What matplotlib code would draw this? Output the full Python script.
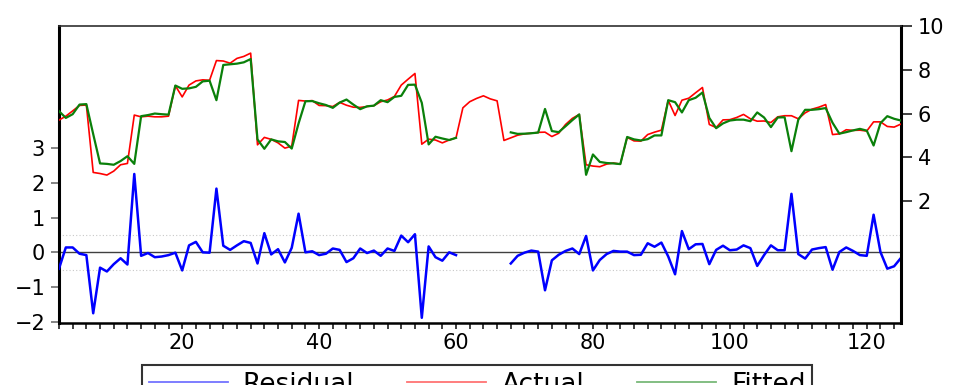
import numpy as np
import matplotlib
matplotlib.use("Agg")
import matplotlib.pyplot as plt
from matplotlib.ticker import MultipleLocator

plt.rcParams["font.family"] = ["DejaVu Sans"]

obs = np.arange(2, 126)  # observation numbers on the x axis
nan = np.nan

# Actual series (right axis)
actual = [5.70, 5.88, 6.12, 6.37, 6.39, 3.31, 3.26, 3.19, 3.37, 3.66,
          3.72, 5.93, 5.85, 5.88, 5.85, 5.85, 5.88, 7.27, 6.76, 7.30,
          7.49, 7.54, 7.52, 8.42, 8.40, 8.30, 8.52, 8.61, 8.76, 4.57,
          4.91, 4.82, 4.66, 4.42, 4.51, 6.60, 6.57, 6.59, 6.37, 6.36,
          6.32, 6.51, 6.38, 6.29, 6.28, 6.32, 6.36, 6.54, 6.62, 6.78,
          7.30, 7.57, 7.83, 4.60, 4.83, 4.79, 4.66, 4.79, 4.89, 6.26,
          6.54, 6.69, 6.81, 6.67, 6.58, 4.77, 4.89, 5.01, 5.07, 5.10,
          5.14, 5.15, 4.95, 5.10, 5.50, 5.78, 5.96, 3.66, 3.60, 3.57,
          3.69, 3.74, 3.69, 4.91, 4.75, 4.74, 5.04, 5.15, 5.24, 6.60,
          5.91, 6.61, 6.70, 6.95, 7.19, 5.50, 5.36, 5.71, 5.72, 5.82,
          5.96, 5.76, 5.65, 5.66, 5.59, 5.85, 5.90, 5.90, 5.76, 6.03,
          6.20, 6.29, 6.41, 5.04, 5.07, 5.26, 5.23, 5.24, 5.20, 5.62,
          5.62, 5.41, 5.38, 5.52]

# Fitted series (right axis), gap for obs 61-67
fitted = [6.11, 5.80, 5.97, 6.41, 6.43, 5.06, 3.72, 3.70, 3.66, 3.83,
          4.05, 3.70, 5.88, 5.93, 6.00, 5.97, 5.95, 7.28, 7.13, 7.15,
          7.22, 7.47, 7.50, 6.61, 8.22, 8.25, 8.28, 8.34, 8.49, 4.82,
          4.39, 4.82, 4.73, 4.70, 4.40, 5.55, 6.56, 6.57, 6.47, 6.39,
          6.26, 6.50, 6.64, 6.41, 6.20, 6.33, 6.36, 6.61, 6.52, 6.76,
          6.81, 7.31, 7.32, 6.49, 4.59, 4.94, 4.86, 4.79, 4.89, nan,
          nan, nan, nan, nan, nan, nan, 5.14, 5.07, 5.08, 5.10,
          5.13, 6.21, 5.20, 5.15, 5.42, 5.70, 5.96, 3.20, 4.13, 3.79,
          3.74, 3.72, 3.69, 4.93, 4.82, 4.77, 4.83, 5.00, 5.00, 6.61,
          6.52, 6.05, 6.61, 6.72, 6.96, 5.80, 5.33, 5.55, 5.68, 5.72,
          5.72, 5.65, 6.05, 5.82, 5.38, 5.82, 5.83, 4.28, 5.72, 6.17,
          6.17, 6.20, 6.25, 5.58, 5.08, 5.15, 5.23, 5.30, 5.22, 4.54,
          5.56, 5.88, 5.76, 5.68]

# Residual series (left axis)
residual = [-0.47, 0.14, 0.14, -0.04, -0.08, -1.75, -0.44, -0.55, -0.34, -0.17,
            -0.35, 2.25, -0.10, -0.02, -0.14, -0.12, -0.08, -0.01, -0.52, 0.20,
            0.30, 0.00, -0.01, 1.83, 0.19, 0.07, 0.20, 0.32, 0.27, -0.32,
            0.55, -0.06, 0.09, -0.29, 0.13, 1.11, 0.00, 0.03, -0.08, -0.04,
            0.11, 0.07, -0.28, -0.17, 0.11, -0.02, 0.05, -0.10, 0.11, 0.04,
            0.48, 0.29, 0.52, -1.88, 0.17, -0.14, -0.24, 0.00, -0.08, nan,
            nan, nan, nan, nan, nan, nan, -0.32, -0.10, -0.01, 0.05,
            0.02, -1.09, -0.23, -0.07, 0.04, 0.11, -0.05, 0.47, -0.52, -0.22,
            -0.05, 0.04, 0.02, 0.02, -0.08, -0.07, 0.26, 0.16, 0.28, -0.12,
            -0.63, 0.61, 0.09, 0.23, 0.24, -0.34, 0.07, 0.19, 0.06, 0.08,
            0.20, 0.12, -0.39, -0.08, 0.20, 0.06, 0.06, 1.68, -0.05, -0.18,
            0.08, 0.12, 0.15, -0.50, 0.01, 0.14, 0.04, -0.08, -0.10, 1.08,
            0.01, -0.47, -0.40, -0.16]

left_ticks = [-2, -1, 0, 1, 2, 3]
right_ticks = [2, 4, 6, 8, 10]
band = 0.5  # dotted +/- band on the residual axis

fig = plt.figure(figsize=(9.59, 3.85), dpi=100)
ax = fig.add_axes([0.0615, 0.161, 0.878, 0.7715])
ax2 = ax.twinx()

# residual on the left axis
ax.axhline(0, color="#404040", lw=1.0, zorder=1)
ax.axhline(band, color="#c8c8c8", lw=0.8, ls=(0, (1, 2)), zorder=1)
ax.axhline(-band, color="#c8c8c8", lw=0.8, ls=(0, (1, 2)), zorder=1)
ax.plot(obs, residual, color="#0000ff", lw=1.8, zorder=3)
ax.set_ylim(-2.03, 6.5)
ax.set_yticks(left_ticks)

# actual / fitted on the right axis
ax2.plot(obs, actual, color="#ff0000", lw=1.2, zorder=3)
ax2.plot(obs, fitted, color="#0a800a", lw=1.6, zorder=4)
ax2.set_ylim(-3.57, 10)
ax2.set_yticks(right_ticks)

ax.set_xlim(2, 125)
ax.xaxis.set_major_locator(MultipleLocator(20))
ax.xaxis.set_minor_locator(MultipleLocator(2))
ax.tick_params(axis="x", which="both", direction="out", length=4, width=1.2,
               color="#202020", labelsize=15, pad=3)
ax.tick_params(axis="y", direction="out", length=6, width=1.2,
               color="#707070", labelsize=15, pad=4)
ax2.tick_params(axis="y", direction="out", length=8, width=1.2,
                color="#202020", labelsize=15, pad=4)

for s in ["top", "right"]:
    ax.spines[s].set_visible(False)
ax2.spines["left"].set_visible(False)
ax2.spines["bottom"].set_visible(False)
ax2.spines["top"].set_linewidth(1.2)
ax2.spines["top"].set_color("#303030")
ax2.spines["right"].set_linewidth(2.2)
ax.spines["left"].set_linewidth(2.2)
ax.spines["bottom"].set_linewidth(1.8)

# legend under the plot, cut off by the bottom edge like the original
handles = [plt.Line2D([], [], color="#0000ff", lw=1.3, alpha=0.55),
           plt.Line2D([], [], color="#ff0000", lw=1.3, alpha=0.55),
           plt.Line2D([], [], color="#0a800a", lw=1.3, alpha=0.55)]
leg = fig.legend(handles, ["Residual", "Actual", "Fitted"], loc="upper left",
                 bbox_to_anchor=(142 / 959, 1 - 365 / 385), ncol=3,
                 fontsize=19, frameon=True, fancybox=False, borderaxespad=0,
                 borderpad=0.25, handlelength=3.0, handletextpad=0.57,
                 columnspacing=2.0)
leg.get_frame().set_edgecolor("black")
leg.get_frame().set_linewidth(1.5)

fig.savefig("out.png", dpi=100)
